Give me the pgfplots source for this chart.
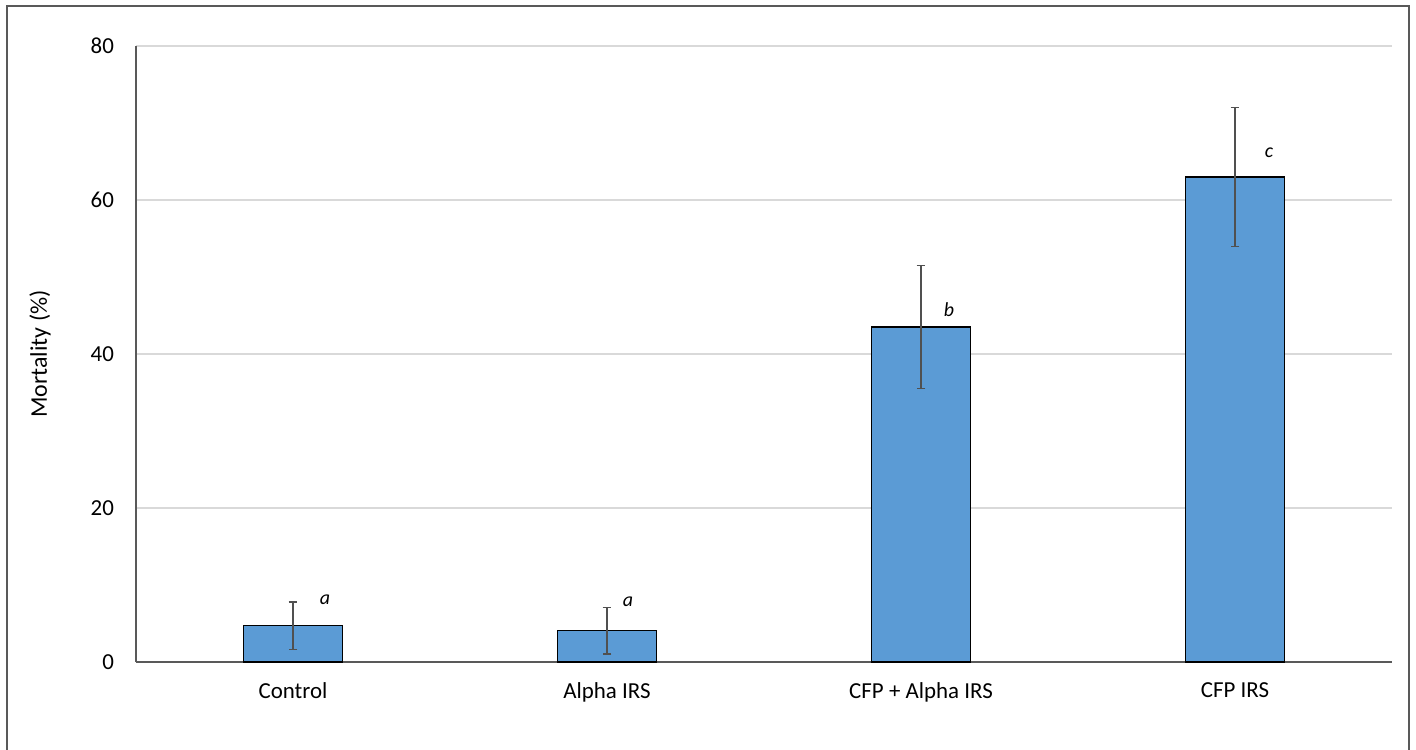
\documentclass[border=0pt]{standalone}
\usepackage{pgfplots}
\pgfplotsset{compat=1.18}
\usepackage{fontspec}
\setmainfont{Carlito}
\definecolor{barblue}{HTML}{5B9BD5}
\definecolor{framegray}{HTML}{595959}
\definecolor{gridgray}{HTML}{D9D9D9}
\definecolor{errgray}{HTML}{505050}
\begin{document}
\begin{tikzpicture}[x=1bp,y=1bp]
\useasboundingbox (0,0) rectangle (708,374.5);
\draw[framegray, line width=1bp] (3.5,-5) -- (3.5,371.5) -- (704.5,371.5) -- (704.5,-5);
\begin{axis}[
  at={(68bp,43.5bp)}, anchor=south west,
  scale only axis, width=628bp, height=308bp,
  xmin=-0.5, xmax=3.5, ymin=0, ymax=80,
  ytick={0,20,40,60,80},
  xtick={0,1,2,3},
  xticklabels={Control, Alpha IRS, CFP + Alpha IRS, CFP IRS},
  major tick length=0pt,
  axis x line*=bottom, axis y line*=left,
  axis line style={framegray, line width=0.7bp},
  ymajorgrids, grid style={gridgray, line width=0.6bp},
  /pgf/number format/assume math mode=true,
  yticklabel style={font=\fontsize{11.5}{13}\selectfont, xshift=-7.5bp},
  xticklabel style={font=\fontsize{11.5}{13}\selectfont, yshift=-7bp},
  clip=false,
]
\addplot[ybar, bar width=49.5bp, fill=barblue, draw=black, line width=0.6bp,
  error bars/.cd, y dir=both, y explicit,
  error bar style={errgray, line width=0.7bp},
  error mark options={rotate=90, mark size=2.2bp, errgray, line width=0.7bp}]
coordinates {
  (0,4.7) +- (0,3.1)
  (1,4.05) +- (0,3.0)
  (2,43.5) +- (0,8.0)
  (3,63.0) +- (0,9.0)
};
\node[font=\itshape\fontsize{10}{12}\selectfont] at (axis cs:0.102,8.05) {a};
\node[font=\itshape\fontsize{10}{12}\selectfont] at (axis cs:1.067,7.8) {a};
\node[font=\itshape\fontsize{10}{12}\selectfont] at (axis cs:2.089,45.8) {b};
\node[font=\itshape\fontsize{10}{12}\selectfont] at (axis cs:3.108,66.1) {c};
\node[font=\fontsize{12}{14}\selectfont, rotate=90] at ([xshift=-48bp]rel axis cs:0,0.5) {Mortality (\%)};
\end{axis}
\end{tikzpicture}
\end{document}
